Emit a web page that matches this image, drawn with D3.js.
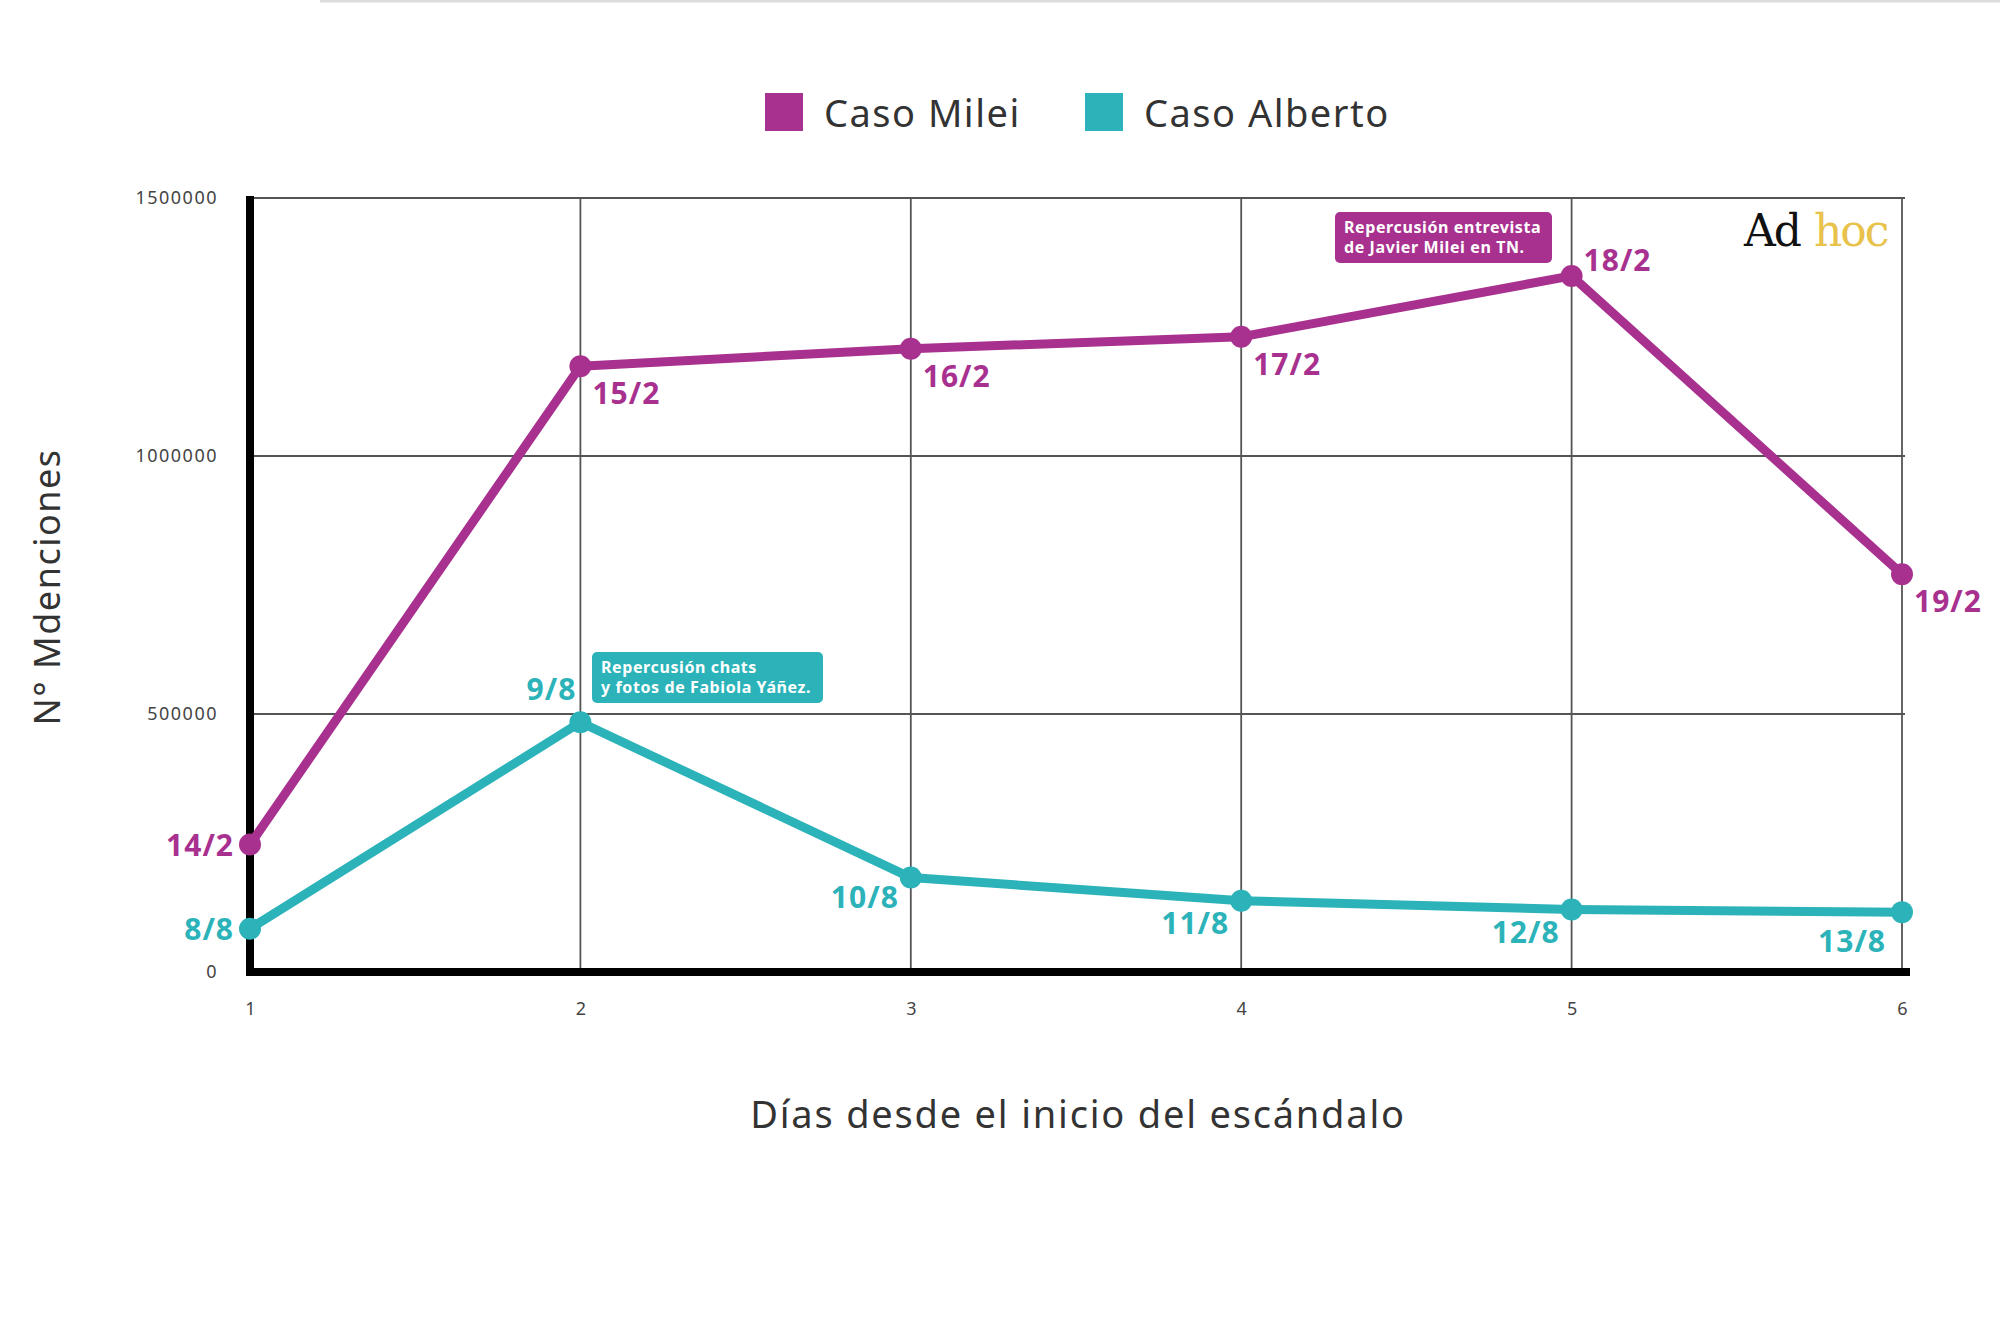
<!DOCTYPE html>
<html><head><meta charset="utf-8">
<script src="https://d3js.org/d3.v7.min.js"></script>
<style>body{margin:0;background:#fff}</style></head>
<body><svg id="c" width="2000" height="1333"></svg>
<script>
const days = [1,2,3,4,5,6];
const mileiValues = [247000,1174000,1208000,1231000,1349000,771000];
const mileiLabels = ["14/2","15/2","16/2","17/2","18/2","19/2"];
const albertoValues = [84000,484000,183000,138000,121000,116000];
const albertoLabels = ["8/8","9/8","10/8","11/8","12/8","13/8"];
const yTicks = [0,500000,1000000,1500000];
const seriesNames = ["Caso Milei","Caso Alberto"];
const colors = ["#a8318f","#2bb3b9"];

const svg = d3.select("#c");
const L=250,R=1902,T=198,B=972;
const x = d3.scaleLinear().domain([1,6]).range([L,R]);
const y = d3.scaleLinear().domain([0,1500000]).range([B,T]);
const font = "'Noto Sans', sans-serif";

svg.append("line").attr("x1",320).attr("x2",2000).attr("y1",1).attr("y2",1).attr("stroke","#ddd").attr("stroke-width",3);

const g = svg.append("g");
g.selectAll(".hg").data(yTicks.slice(1)).join("line").attr("x1",L).attr("x2",R+3)
 .attr("y1",d=>y(d)).attr("y2",d=>y(d)).attr("stroke","#555").attr("stroke-width",1.8);
g.selectAll(".vg").data(days.slice(1)).join("line").attr("x1",d=>x(d)).attr("x2",d=>x(d))
 .attr("y1",T).attr("y2",B).attr("stroke","#555").attr("stroke-width",1.8);

const yAxis = d3.axisLeft(y).tickValues(yTicks).tickSize(0).tickPadding(32).tickFormat(d3.format("d"));
const ya = svg.append("g").attr("transform",`translate(${L},0)`).call(yAxis);
ya.select(".domain").remove();
ya.selectAll("text").attr("font-family",font).attr("font-size",18).attr("letter-spacing",1.5).attr("fill","#444");
const xAxis = d3.axisBottom(x).tickValues(days).tickSize(0).tickPadding(30).tickFormat(d3.format("d"));
const xa = svg.append("g").attr("transform",`translate(0,${B})`).call(xAxis);
xa.select(".domain").remove();
xa.selectAll("text").attr("font-family",font).attr("font-size",18).attr("fill","#444");

svg.append("line").attr("x1",L).attr("x2",L).attr("y1",T-2).attr("y2",B+4).attr("stroke","#000").attr("stroke-width",8);
svg.append("line").attr("x1",L-4).attr("x2",R+8).attr("y1",B).attr("y2",B).attr("stroke","#000").attr("stroke-width",8);

svg.append("text").attr("transform",`translate(60,587) rotate(-90)`).attr("text-anchor","middle")
 .attr("font-family",font).attr("font-size",36).attr("letter-spacing",1.5).attr("fill","#333").text("N° Mdenciones");
svg.append("text").attr("x",1078).attr("y",1128).attr("text-anchor","middle")
 .attr("font-family",font).attr("font-size",38).attr("letter-spacing",1.8).attr("fill","#333").text("Días desde el inicio del escándalo");

const leg = [[765,seriesNames[0],colors[0]],[1085,seriesNames[1],colors[1]]];
leg.forEach(([lx,t,c])=>{
  svg.append("rect").attr("x",lx).attr("y",93).attr("width",38).attr("height",38).attr("fill",c);
  svg.append("text").attr("x",lx+59).attr("y",127).attr("font-family",font).attr("font-size",38).attr("letter-spacing",1.5).attr("fill","#333").text(t);
});

function box(bx,by,bw,bh,c,lines){
  svg.append("rect").attr("x",bx).attr("y",by).attr("width",bw).attr("height",bh).attr("rx",5).attr("fill",c);
  lines.forEach((t,i)=>svg.append("text").attr("x",bx+9).attr("y",by+21+i*20).attr("font-family",font)
   .attr("font-weight",700).attr("font-size",16).attr("letter-spacing",0.6).attr("fill","#fff").text(t));
}
box(1335,212,217,51,colors[0],["Repercusión entrevista","de Javier Milei en TN."]);
box(592,652,231,51,colors[1],["Repercusión chats","y fotos de Fabiola Yáñez."]);

const logo = svg.append("text").attr("x",1744).attr("y",246).attr("font-family","'DejaVu Serif', 'Liberation Serif', serif").attr("font-size",44).attr("letter-spacing",-2);
logo.append("tspan").attr("fill","#111").text("Ad");
logo.append("tspan").attr("dx",14).attr("fill","#e8c24a").text("hoc");

const line = d3.line().x((d,i)=>x(days[i])).y(d=>y(d));
function series(vals,labels,c,offs){
  svg.append("path").datum(vals).attr("d",line).attr("fill","none").attr("stroke",c).attr("stroke-width",9).attr("stroke-linejoin","round");
  svg.selectAll(null).data(vals).join("circle").attr("cx",(d,i)=>x(days[i])).attr("cy",d=>y(d)).attr("r",11).attr("fill",c);
  svg.selectAll(null).data(vals).join("text").attr("x",(d,i)=>x(days[i])+offs[i][0]).attr("y",(d,i)=>y(d)+offs[i][1])
   .attr("text-anchor",(d,i)=>offs[i][2]).attr("font-family",font).attr("font-weight",700).attr("font-size",30).attr("letter-spacing",1)
   .attr("fill",c).text((d,i)=>labels[i]);
}
series(mileiValues,mileiLabels,colors[0],[[-16,11,"end"],[12,38,"start"],[12,38,"start"],[12,38,"start"],[12,-5,"start"],[12,38,"start"]]);
series(albertoValues,albertoLabels,colors[1],[[-16,11,"end"],[-4,-22,"end"],[-12,30,"end"],[-12,33,"end"],[-12,33,"end"],[-16,40,"end"]]);
</script></body></html>
